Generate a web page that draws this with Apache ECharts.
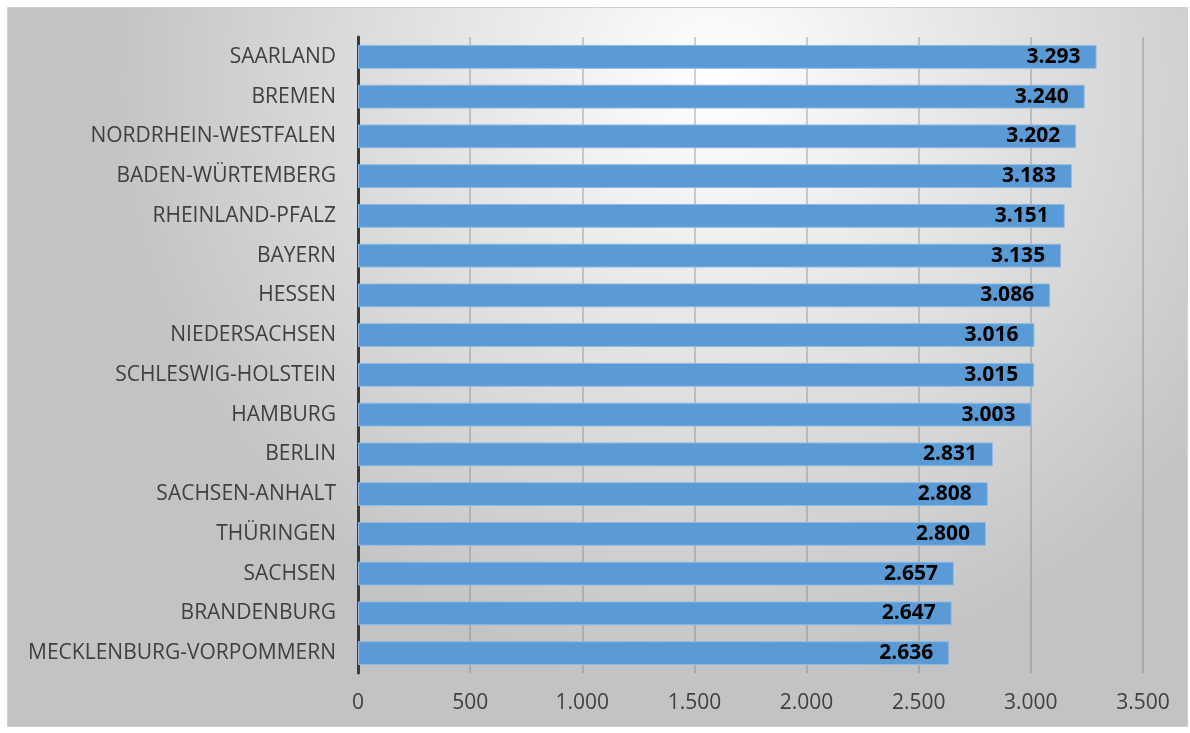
<!DOCTYPE html>
<html>
<head>
<meta charset="utf-8">
<script src="https://cdn.jsdelivr.net/npm/echarts@6/dist/echarts.min.js"></script>
<style>
  html, body { margin: 0; padding: 0; background: #fff; }
  #chart { width: 1190px; height: 733px; }
</style>
</head>
<body>
<div id="chart"></div>
<script>
// states, bottom to top as the category axis draws them
const states = [
  'MECKLENBURG-VORPOMMERN', 'BRANDENBURG', 'SACHSEN', 'THÜRINGEN', 'SACHSEN-ANHALT',
  'BERLIN', 'HAMBURG', 'SCHLESWIG-HOLSTEIN', 'NIEDERSACHSEN', 'HESSEN', 'BAYERN',
  'RHEINLAND-PFALZ', 'BADEN-WÜRTEMBERG', 'NORDRHEIN-WESTFALEN', 'BREMEN', 'SAARLAND'
]
const values = [2636, 2647, 2657, 2800, 2808, 2831, 3003, 3015, 3016, 3086, 3135, 3151, 3183, 3202, 3240, 3293]

// german thousands separator
const fmt = v => String(v).replace(/\B(?=(\d{3})+(?!\d))/g, '.')

const font = '"Open Sans", Lato, sans-serif'

const chart = echarts.init(document.getElementById('chart'))
chart.setOption({
  animation: false,
  backgroundColor: '#ffffff',
  graphic: [{
    type: 'rect',
    z: -10,
    silent: true,
    shape: { x: 7.5, y: 7.5, width: 1180, height: 719 },
    style: {
      fill: new echarts.graphic.RadialGradient(0.6, 0.1, 0.85, [
        { offset: 0, color: '#ffffff' },
        { offset: 1, color: '#c3c3c3' }
      ]),
      stroke: '#d0d0d0',
      lineWidth: 1
    }
  }],
  grid: { left: 358, right: 47, top: 37, bottom: 60 },
  xAxis: {
    type: 'value',
    min: 0,
    max: 3500,
    interval: 500,
    axisLine: { show: false },
    axisTick: { show: false },
    splitLine: { lineStyle: { color: 'rgba(120,120,120,0.45)', width: 1.5 } },
    axisLabel: {
      formatter: fmt,
      color: '#404040',
      fontSize: 21,
      fontFamily: font,
      margin: 20
    }
  },
  yAxis: {
    type: 'category',
    data: states,
    axisLine: { lineStyle: { color: '#3a3a3a', width: 3 } },
    axisTick: { show: false },
    axisLabel: {
      color: '#404040',
      fontSize: 21,
      fontFamily: font,
      margin: 22
    }
  },
  series: [{
    type: 'bar',
    data: values,
    barWidth: '60%',
    itemStyle: { color: '#5b9bd5', borderColor: '#8fbbe3', borderWidth: 1 },
    label: {
      show: true,
      position: 'insideRight',
      distance: 16,
      formatter: p => fmt(p.value),
      color: '#000',
      fontWeight: 'bold',
      fontSize: 21,
      fontFamily: font
    }
  }]
})
</script>
</body>
</html>
